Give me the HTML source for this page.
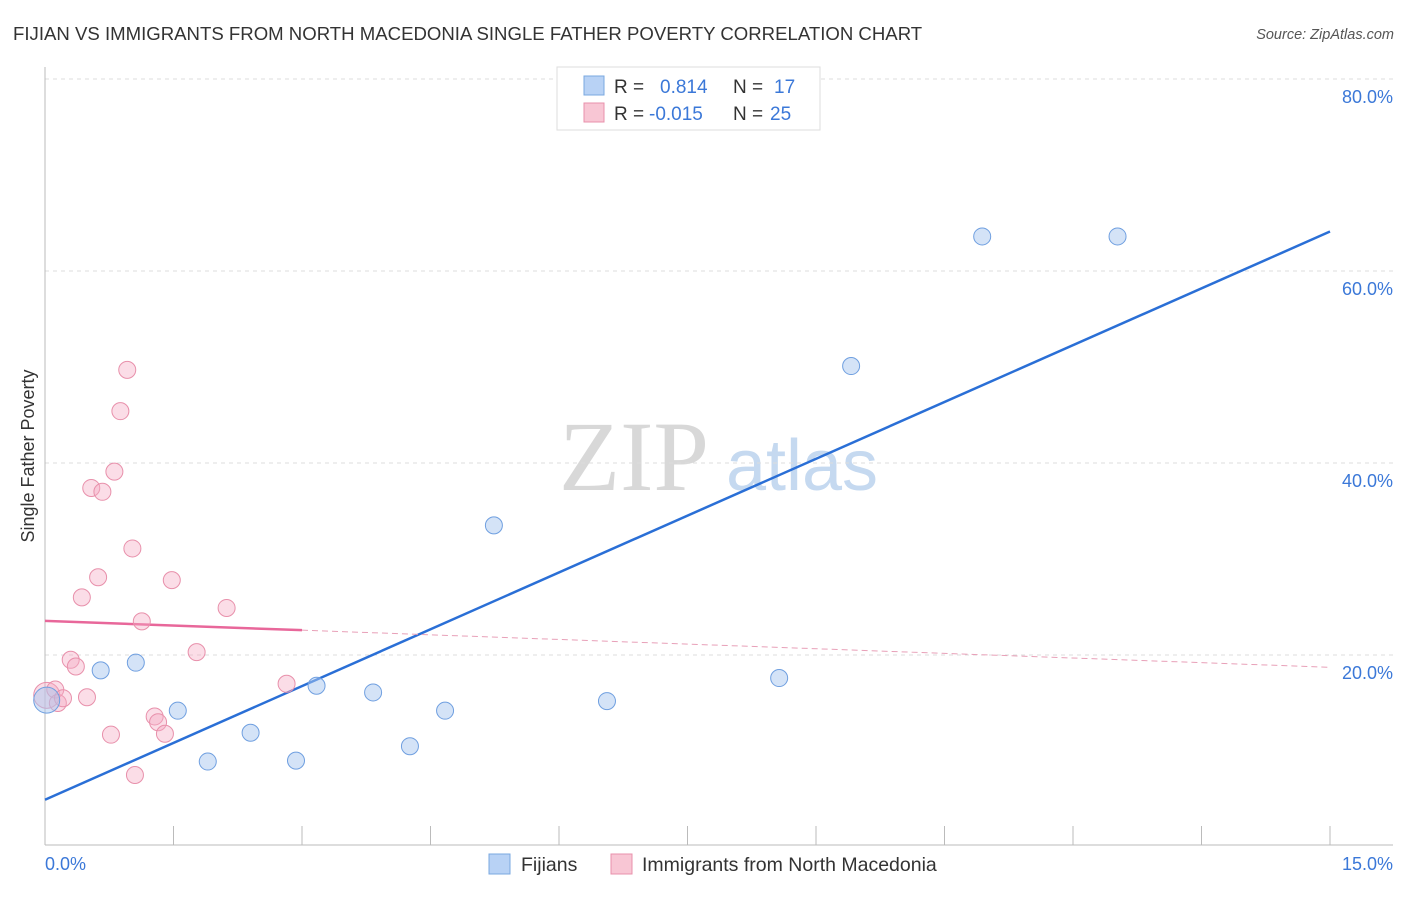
<!DOCTYPE html>
<html><head><meta charset="utf-8"><style>
body{margin:0;background:#fff;font-family:"Liberation Sans",sans-serif}
svg text{font-family:"Liberation Sans",sans-serif}
</style></head><body>
<svg id="chart" width="1406" height="892">
<text x="13" y="40" font-size="18.6" fill="#333">FIJIAN VS IMMIGRANTS FROM NORTH MACEDONIA SINGLE FATHER POVERTY CORRELATION CHART</text>
<text x="1394" y="39" font-size="14.5" fill="#555" font-style="italic" text-anchor="end">Source: ZipAtlas.com</text>
<text x="634" y="490" font-size="100" fill="#d8d8d8" style="font-family:'Liberation Serif',serif" text-anchor="middle">ZIP</text>
<text x="802" y="490" font-size="72" fill="#c5d9f0" text-anchor="middle">atlas</text>
<g id="grid"></g><g id="axes"></g><g id="lines"></g><g id="pts"></g>
<text transform="translate(34,456) rotate(-90)" font-size="18" fill="#333" text-anchor="middle">Single Father Poverty</text>
<text x="45" y="870" font-size="18" fill="#3b78d8">0.0%</text>
<text x="1393" y="870" font-size="18" fill="#3b78d8" text-anchor="end">15.0%</text>
<g>
<rect x="557" y="67" width="263" height="63" fill="#fff" stroke="#ddd"/>
<rect x="584" y="76" width="20" height="19" fill="#b8d2f5" stroke="#7aa8e0"/>
<rect x="584" y="103" width="20" height="19" fill="#f8c6d4" stroke="#e890ab"/>
<text x="614" y="93" font-size="19" fill="#333">R = <tspan fill="#3b78d8" x="660">0.814</tspan><tspan x="733" fill="#333">N = </tspan><tspan fill="#3b78d8" x="774">17</tspan></text>
<text x="614" y="120" font-size="19" fill="#333">R = <tspan fill="#3b78d8" x="649">-0.015</tspan><tspan x="733" fill="#333">N = </tspan><tspan fill="#3b78d8" x="770">25</tspan></text>
</g>
<g>
<rect x="489" y="854" width="21" height="20" fill="#b8d2f5" stroke="#7aa8e0"/>
<text x="521" y="871" font-size="19.5" fill="#333">Fijians</text>
<rect x="611" y="854" width="21" height="20" fill="#f8c6d4" stroke="#e890ab"/>
<text x="642" y="871" font-size="19.5" fill="#333">Immigrants from North Macedonia</text>
</g>
</svg>
<script>
const yTicks=[20,40,60,80];
const yTickLabels=["20.0%","40.0%","60.0%","80.0%"];
const xTicks=[0,1.5,3,4.5,6,7.5,9,10.5,12,13.5,15];
const fijiX=[0.02,0.65,1.06,1.55,1.90,2.40,2.93,3.17,3.83,4.26,4.67,5.24,6.56,8.57,9.41,10.94,12.52];
const fijiY=[15.3,18.4,19.2,14.2,8.9,11.9,9.0,16.8,16.1,10.5,14.2,33.5,15.2,17.6,50.1,63.6,63.6];
const macX=[0.02,0.12,0.15,0.21,0.30,0.36,0.43,0.49,0.54,0.62,0.67,0.77,0.81,0.88,0.96,1.02,1.05,1.13,1.28,1.32,1.40,1.48,1.77,2.12,2.82];
const macY=[15.8,16.4,15.0,15.5,19.5,18.8,26.0,15.6,37.4,28.1,37.0,11.7,39.1,45.4,49.7,31.1,7.5,23.5,13.6,13.0,11.8,27.8,20.3,24.9,17.0];
const X=v=>45+v*(1285/15), Y=v=>847-v*9.6;
const NS="http://www.w3.org/2000/svg";
function mk(p,tag,a){const e=document.createElementNS(NS,tag);for(const k in a)e.setAttribute(k,a[k]);document.getElementById(p).appendChild(e);return e;}
yTicks.forEach((t,i)=>{
 const l=mk('grid','line',{x1:45,x2:1393,y1:Y(t),y2:Y(t),stroke:'#ddd','stroke-dasharray':'4,4'});
 
 
 const tx=mk('grid','text',{x:1393,y:Y(t)+24,'font-size':18,fill:'#3b78d8','text-anchor':'end'});
 tx.textContent=yTickLabels[i];
 
 
});
const ax=mk('axes','line',{x1:45,x2:45,y1:67,y2:845,stroke:'#bbb'});


const bx=mk('axes','line',{x1:45,x2:1393,y1:845,y2:845,stroke:'#bbb'});


xTicks.forEach(t=>{
 const l=mk('axes','line',{x1:X(t),x2:X(t),y1:826,y2:845,stroke:'#bbb'});
 
 
});
function fit(xs,ys){const n=xs.length;let mx=0,my=0;xs.forEach((v,i)=>{mx+=v;my+=ys[i];});mx/=n;my/=n;let sxy=0,sxx=0;xs.forEach((v,i)=>{sxy+=(v-mx)*(ys[i]-my);sxx+=(v-mx)*(v-mx);});const b=sxy/sxx;return[my-b*mx,b];}
const [fa,fb]=fit(fijiX,fijiY);
const bl=mk('lines','line',{x1:X(0),y1:Y(fa),x2:X(15),y2:Y(fa+fb*15),stroke:'#2a6fd6','stroke-width':2.5});


const [ma,mb]=fit(macX,macY);
const pl=mk('lines','line',{x1:X(0),y1:Y(ma),x2:X(3),y2:Y(ma+mb*3),stroke:'#e8679a','stroke-width':2.5});


const pd=mk('lines','line',{x1:X(3),y1:Y(ma+mb*3),x2:X(15),y2:Y(ma+mb*15),stroke:'#e8a0b8','stroke-width':1,'stroke-dasharray':'6,4'});


macX.forEach((v,i)=>{
 const c=mk('pts','circle',{cx:X(v),cy:Y(macY[i]),r:i==0?13:8.5,fill:'rgba(245,170,195,0.4)',stroke:'#e890ab','stroke-width':1});
 
 
});
fijiX.forEach((v,i)=>{
 const c=mk('pts','circle',{cx:X(v),cy:Y(fijiY[i]),r:i==0?13:8.5,fill:'rgba(170,200,240,0.5)',stroke:'#6f9fe0','stroke-width':1});
 
 
});
</script>
</body></html>
